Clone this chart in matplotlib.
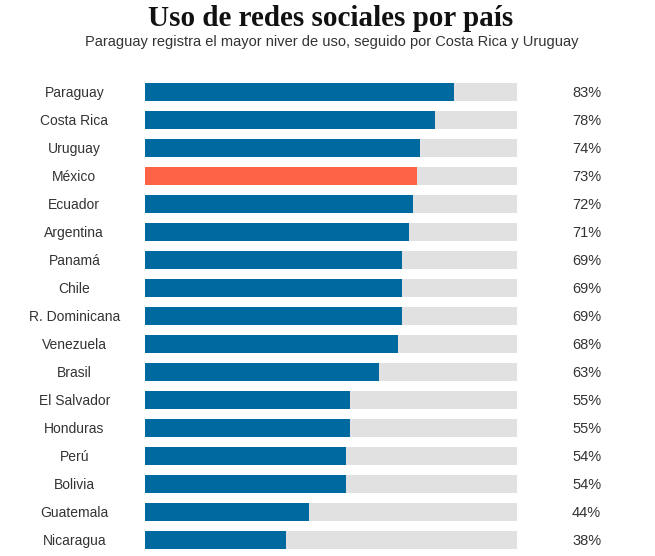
import matplotlib.pyplot as plt
from matplotlib import font_manager

paises = ["Paraguay", "Costa Rica", "Uruguay", "México", "Ecuador", "Argentina",
          "Panamá", "Chile", "R. Dominicana", "Venezuela", "Brasil", "El Salvador",
          "Honduras", "Perú", "Bolivia", "Guatemala", "Nicaragua"]
valores = [83, 78, 74, 73, 72, 71, 69, 69, 69, 68, 63, 55, 55, 54, 54, 44, 38]
destacado = "México"

nombres = {f.name for f in font_manager.fontManager.ttflist}
narrow = "Liberation Sans Narrow" if "Liberation Sans Narrow" in nombres else "Liberation Sans"

fig = plt.figure(figsize=(6.55, 5.56), dpi=100)
W, H = 655, 556
ax = fig.add_axes([145 / W, (H - 554) / H, (517 - 145) / W, (554 - 78) / H])

ys = list(range(len(paises)))
ax.barh(ys, [100] * len(paises), height=0.64, color="#e1e1e1")
colores = ["#ff6347" if p == destacado else "#006aa0" for p in paises]
ax.barh(ys, valores, height=0.64, color=colores)
ax.set_xlim(0, 100)
ax.set_ylim(len(paises) - 0.5, -0.5)
ax.axis("off")

for y, p, v in zip(ys, paises, valores):
    ax.text(-19, y + 0.03, p, ha="center", va="center", fontsize=10, color="#333333",
            family=narrow)
    ax.text(118.7, y + 0.03, f"{v}%", ha="center", va="center", fontsize=10.5,
            color="#333333", family=narrow)

fig.text(331 / W, 1 - 19 / H, "Uso de redes sociales por país", ha="center",
         va="center", fontsize=21, fontweight="bold", family="Liberation Serif",
         color="#111111")
fig.text(332 / W, 1 - 42 / H,
         "Paraguay registra el mayor niver de uso, seguido por Costa Rica y Uruguay",
         ha="center", va="center", fontsize=10.5, color="#333333", family=narrow)

fig.savefig("out.png", dpi=100)
